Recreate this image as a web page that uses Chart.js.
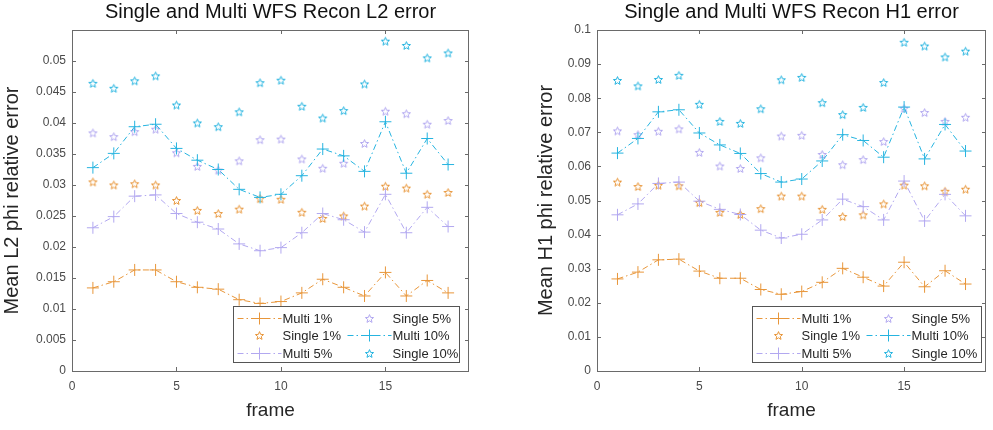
<!DOCTYPE html>
<html>
<head>
<meta charset="utf-8">
<title>WFS recon error</title>
<script src="https://cdn.jsdelivr.net/npm/chart.js@4.4.1/dist/chart.umd.min.js"></script>
<style>
  body { margin: 0; background: #fff; }
  #wrap { position: relative; width: 993px; height: 430px; }
  canvas { position: absolute; top: 0; }
</style>
</head>
<body>
<div id="wrap">
  <canvas id="l2" width="496" height="430" style="left:0"></canvas>
  <canvas id="h1" width="497" height="430" style="left:496px"></canvas>
</div>
<script>
// frames on the x axis
var frames = [1, 2, 3, 4, 5, 6, 7, 8, 9, 10, 11, 12, 13, 14, 15, 16, 17, 18];
var seriesNames = ['Multi 1%', 'Single 1%', 'Multi 5%', 'Single 5%', 'Multi 10%', 'Single 10%'];

// L2 error
var l2Multi1 = [0.0134, 0.0144, 0.0163, 0.0163, 0.0144, 0.0135, 0.0132, 0.0115, 0.0109, 0.0112, 0.0126, 0.0148, 0.0135, 0.0121, 0.0159, 0.0121, 0.0146, 0.0126];
var l2Single1 = [0.0305, 0.0300, 0.0302, 0.0300, 0.0275, 0.0259, 0.0254, 0.0261, 0.0278, 0.0277, 0.0256, 0.0246, 0.0250, 0.0266, 0.0298, 0.0295, 0.0285, 0.0288];
var l2Multi5 = [0.0231, 0.0249, 0.0282, 0.0284, 0.0254, 0.0240, 0.0229, 0.0205, 0.0194, 0.0199, 0.0223, 0.0254, 0.0244, 0.0224, 0.0285, 0.0223, 0.0264, 0.0233];
var l2Single5 = [0.0384, 0.0378, 0.0386, 0.0390, 0.0352, 0.0330, 0.0324, 0.0339, 0.0373, 0.0374, 0.0342, 0.0327, 0.0335, 0.0367, 0.0419, 0.0415, 0.0398, 0.0404];
var l2Multi10 = [0.0328, 0.0351, 0.0394, 0.0398, 0.0359, 0.0340, 0.0325, 0.0293, 0.0280, 0.0285, 0.0315, 0.0358, 0.0347, 0.0322, 0.0402, 0.0319, 0.0375, 0.0333];
var l2Single10 = [0.0464, 0.0456, 0.0468, 0.0476, 0.0429, 0.0400, 0.0394, 0.0418, 0.0465, 0.0469, 0.0427, 0.0408, 0.0420, 0.0463, 0.0532, 0.0525, 0.0505, 0.0513];

// H1 error
var h1Multi1 = [0.0270, 0.0290, 0.0326, 0.0328, 0.0293, 0.0272, 0.0272, 0.0239, 0.0225, 0.0233, 0.0260, 0.0301, 0.0275, 0.0249, 0.0319, 0.0247, 0.0294, 0.0255];
var h1Single1 = [0.0554, 0.0541, 0.0545, 0.0543, 0.0494, 0.0465, 0.0459, 0.0476, 0.0513, 0.0513, 0.0474, 0.0453, 0.0458, 0.0490, 0.0545, 0.0543, 0.0527, 0.0533];
var h1Multi5 = [0.0458, 0.0490, 0.0550, 0.0554, 0.0498, 0.0474, 0.0459, 0.0413, 0.0390, 0.0401, 0.0443, 0.0504, 0.0482, 0.0443, 0.0557, 0.0440, 0.0518, 0.0455];
var h1Single5 = [0.0704, 0.0693, 0.0703, 0.0710, 0.0641, 0.0601, 0.0594, 0.0625, 0.0689, 0.0691, 0.0635, 0.0605, 0.0620, 0.0673, 0.0770, 0.0758, 0.0732, 0.0744];
var h1Multi10 = [0.0639, 0.0682, 0.0760, 0.0766, 0.0698, 0.0663, 0.0638, 0.0579, 0.0554, 0.0563, 0.0616, 0.0693, 0.0676, 0.0627, 0.0774, 0.0622, 0.0723, 0.0645];
var h1Single10 = [0.0852, 0.0836, 0.0855, 0.0867, 0.0782, 0.0732, 0.0726, 0.0769, 0.0854, 0.0861, 0.0787, 0.0752, 0.0773, 0.0846, 0.0964, 0.0953, 0.0921, 0.0938];

// axis ticks
var xTicks = [0, 5, 10, 15];
var l2Ticks = [0, 0.005, 0.01, 0.015, 0.02, 0.025, 0.03, 0.035, 0.04, 0.045, 0.05];
var h1Ticks = [0, 0.01, 0.02, 0.03, 0.04, 0.05, 0.06, 0.07, 0.08, 0.09, 0.1];

var ORANGE = 'rgb(232,150,58)';
var PURPLE = 'rgb(178,168,240)';
var CYAN = 'rgb(38,180,224)';
var colors = [ORANGE, ORANGE, PURPLE, PURPLE, CYAN, CYAN];
var DASHDOT = [6, 3, 1.5, 3];
var FONT = '"Liberation Sans", Arial, sans-serif';

// pentagram outline used as a marker
function starMark(color) {
  var c = document.createElement('canvas');
  c.width = 11; c.height = 11;
  var g = c.getContext('2d');
  g.strokeStyle = color;
  g.lineWidth = 1;
  g.beginPath();
  for (var i = 0; i < 10; i++) {
    var r = i % 2 ? 1.9 : 4.3;
    var a = -Math.PI / 2 + i * Math.PI / 5;
    var px = 5.5 + r * Math.cos(a), py = 5.9 + r * Math.sin(a);
    if (i) g.lineTo(px, py); else g.moveTo(px, py);
  }
  g.closePath();
  g.stroke();
  return c;
}
var stars = colors.map(starMark);

function makeDatasets(list) {
  return list.map(function (vals, i) {
    var isLine = i % 2 === 0;
    return {
      label: seriesNames[i],
      data: frames.map(function (f, k) { return { x: f, y: vals[k] }; }),
      showLine: isLine,
      borderColor: colors[i],
      backgroundColor: colors[i],
      borderWidth: 1,
      borderDash: isLine ? DASHDOT : [],
      pointStyle: isLine ? 'cross' : stars[i],
      pointRadius: 6,
      pointBorderWidth: 1,
      pointBorderColor: colors[i],
      order: list.length - i
    };
  });
}

// box around the axes with inward tick marks
var axesBox = {
  id: 'axesBox',
  afterDraw: function (chart) {
    var a = chart.chartArea, ctx = chart.ctx;
    var xs = chart.scales.x, ys = chart.scales.y;
    ctx.save();
    ctx.strokeStyle = '#6a6a6a';
    ctx.lineWidth = 1;
    ctx.strokeRect(Math.round(a.left) + 0.5, Math.round(a.top) + 0.5,
      Math.round(a.right - a.left) - 1, Math.round(a.bottom - a.top));
    ctx.beginPath();
    xs.ticks.forEach(function (t) {
      var px = Math.round(xs.getPixelForValue(t.value)) + 0.5;
      ctx.moveTo(px, a.bottom); ctx.lineTo(px, a.bottom - 4);
      ctx.moveTo(px, a.top); ctx.lineTo(px, a.top + 4);
    });
    ys.ticks.forEach(function (t) {
      var py = Math.round(ys.getPixelForValue(t.value)) + 0.5;
      ctx.moveTo(a.left, py); ctx.lineTo(a.left + 4, py);
      ctx.moveTo(a.right, py); ctx.lineTo(a.right - 4, py);
    });
    ctx.stroke();
    ctx.restore();
  }
};

// two-column legend inside the lower right corner of the axes
var boxLegend = {
  id: 'boxLegend',
  afterDraw: function (chart, args, opts) {
    var a = chart.chartArea, ctx = chart.ctx;
    var bx = Math.round(a.right - opts.right - opts.width) + 0.5;
    var by = Math.round(a.bottom - opts.bottom - opts.height) + 0.5;
    ctx.save();
    ctx.fillStyle = '#fff';
    ctx.fillRect(bx, by, opts.width, opts.height);
    ctx.strokeStyle = '#555';
    ctx.lineWidth = 1;
    ctx.strokeRect(bx, by, opts.width, opts.height);
    ctx.font = '13px ' + FONT;
    ctx.textBaseline = 'middle';
    var rows = [11, 28.5, 46];
    var cols = [4, 114];
    chart.data.datasets.forEach(function (ds, i) {
      var cx = bx + cols[Math.floor(i / 3)];
      var cy = Math.round(by + rows[i % 3]) + 0.5;
      var mid = cx + 22;
      if (ds.showLine) {
        ctx.strokeStyle = colors[i];
        ctx.lineWidth = 1;
        ctx.setLineDash(DASHDOT);
        ctx.beginPath();
        ctx.moveTo(cx, cy); ctx.lineTo(cx + 44, cy);
        ctx.stroke();
        ctx.setLineDash([]);
        ctx.strokeStyle = colors[i];
        ctx.beginPath();
        ctx.moveTo(mid - 6, cy); ctx.lineTo(mid + 6, cy);
        ctx.moveTo(mid, cy - 6); ctx.lineTo(mid, cy + 6);
        ctx.stroke();
      } else {
        var img = ds.pointStyle;
        ctx.drawImage(img, mid - img.width / 2, cy - img.height / 2);
      }
      ctx.fillStyle = '#262626';
      ctx.fillText(ds.label, cx + 45, cy + 1);
    });
    ctx.restore();
  }
};

function fmt(v) {
  return String(Number(v.toFixed(4)));
}

function makeChart(id, list, title, yTitle, yMax, yTicks, pad, yWidth, legendOpts) {
  return new Chart(document.getElementById(id), {
    type: 'line',
    data: { datasets: makeDatasets(list) },
    plugins: [axesBox, boxLegend],
    options: {
      responsive: false,
      animation: false,
      layout: { padding: pad },
      plugins: {
        legend: { display: false },
        tooltip: { enabled: false },
        title: {
          display: true,
          text: title,
          fullSize: false,
          color: '#111',
          font: { family: FONT, size: 20, weight: 'normal', lineHeight: 1.2 },
          padding: { top: 0, bottom: 6 }
        },
        boxLegend: legendOpts
      },
      scales: {
        x: {
          type: 'linear',
          min: 0,
          max: 19,
          afterBuildTicks: function (s) { s.ticks = xTicks.map(function (v) { return { value: v }; }); },
          afterFit: function (s) { s.height = 59 - pad.bottom; },
          grid: { display: false, drawTicks: false },
          border: { display: false },
          ticks: { color: '#4a4a4a', padding: 8, font: { family: FONT, size: 12 }, maxRotation: 0 },
          title: {
            display: true,
            text: 'frame',
            color: '#262626',
            font: { family: FONT, size: 19 },
            padding: { top: 0, bottom: 0 }
          }
        },
        y: {
          type: 'linear',
          min: 0,
          max: yMax,
          afterBuildTicks: function (s) { s.ticks = yTicks.map(function (v) { return { value: v }; }); },
          afterFit: function (s) { s.width = yWidth; },
          grid: { display: false, drawTicks: false },
          border: { display: false },
          ticks: {
            color: '#4a4a4a',
            padding: 6,
            font: { family: FONT, size: 12 },
            callback: function (v) { return fmt(v); }
          },
          title: {
            display: true,
            text: yTitle,
            color: '#262626',
            font: { family: FONT, size: 20 },
            padding: { top: 0, bottom: 0 }
          }
        }
      }
    }
  });
}

makeChart('l2', [l2Multi1, l2Single1, l2Multi5, l2Single5, l2Multi10, l2Single10],
  'Single and Multi WFS Recon L2 error', 'Mean L2 phi relative error', 0.055, l2Ticks,
  { left: 0, right: 27, top: 0, bottom: 8 }, 72,
  { right: 10, bottom: 9, width: 226, height: 56 });

makeChart('h1', [h1Multi1, h1Single1, h1Multi5, h1Single5, h1Multi10, h1Single10],
  'Single and Multi WFS Recon H1 error', 'Mean H1 phi relative error', 0.1, h1Ticks,
  { left: 38, right: 2, top: 0, bottom: 8 }, 63,
  { right: 5, bottom: 9, width: 229, height: 56 });
</script>
</body>
</html>
